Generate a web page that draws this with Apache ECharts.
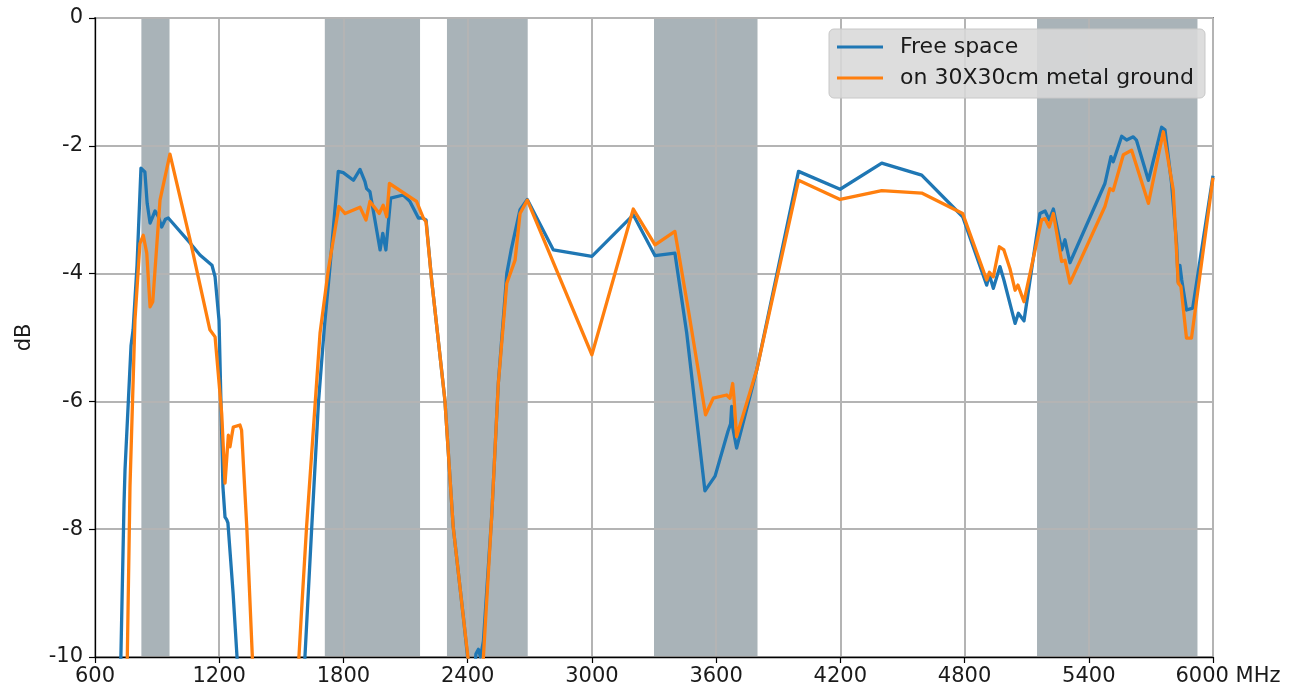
<!DOCTYPE html>
<html>
<head>
<meta charset="utf-8">
<title>Efficiency vs frequency</title>
<script src="https://cdn.jsdelivr.net/npm/echarts@6/dist/echarts.min.js"></script>
<style>
  html, body { margin: 0; padding: 0; background: #fff; }
  #chart { width: 1310px; height: 697px; }
</style>
</head>
<body>
<div id="chart"></div>
<script>
// Antenna efficiency (dB) vs frequency (MHz)
const freqFree = [700, 725, 740, 745, 774, 784, 803, 822, 827, 841, 852, 866, 880, 890, 905, 922, 940, 954,
  1059, 1107, 1165, 1180, 1199, 1218, 1228, 1236, 1242, 1267, 1286, 1300,
  1600, 1614, 1647, 1679, 1708, 1732, 1775, 1799, 1848, 1880, 1904, 1912, 1928, 1952, 1977, 1990, 2005,
  2028, 2089, 2121, 2162, 2180, 2199, 2226, 2290, 2330, 2379, 2403, 2425, 2440, 2452, 2462, 2476,
  2516, 2548, 2589, 2610, 2653, 2688, 2814, 3000, 3200, 3305, 3401, 3458, 3546, 3595, 3657, 3670,
  3675, 3680, 3699, 3796, 3998, 4199, 4400, 4593, 4791, 4907, 4920, 4939, 4971, 4990, 5044, 5060,
  5087, 5164, 5189, 5209, 5229, 5269, 5285, 5309, 5478, 5507, 5518, 5559, 5583, 5615, 5630, 5688,
  5752, 5768, 5800, 5824, 5832, 5840, 5849, 5872, 5902, 6000];
const dbFree = [-12, -10, -7.62, -7.07, -5.13, -4.88, -3.87, -2.35, -2.33, -2.41, -2.9, -3.21, -3.1, -3.02, -3.1, -3.27, -3.15, -3.13,
  -3.52, -3.71, -3.87, -4.05, -4.73, -7.34, -7.81, -7.85, -7.90, -9.0, -10, -11,
  -11, -10, -7.96, -6.03, -4.83, -4.0, -2.40, -2.42, -2.54, -2.37, -2.56, -2.67, -2.72, -3.16, -3.63, -3.37, -3.63,
  -2.82, -2.77, -2.87, -3.13, -3.13, -3.16, -4.10, -5.98, -7.96, -9.37, -10.1, -10.6, -9.95, -9.88, -10.0, -9.75,
  -7.80, -5.72, -4.0, -3.63, -3.0, -2.84, -3.63, -3.73, -3.08, -3.72, -3.68, -4.93, -7.40, -7.17, -6.47, -6.35,
  -6.08, -6.40, -6.73, -5.51, -2.40, -2.68, -2.27, -2.46, -3.11, -4.18, -4.02, -4.23, -3.89, -4.10, -4.78, -4.62,
  -4.74, -3.06, -3.02, -3.16, -2.99, -3.63, -3.47, -3.83, -2.59, -2.17, -2.25, -1.85, -1.91, -1.86, -1.91, -2.54,
  -1.71, -1.75, -2.59, -3.53, -4.13, -3.87, -4.10, -4.57, -4.54, -2.47];

const freqMetal = [700, 750, 756, 769, 793, 817, 833, 850, 866, 879, 914, 962, 1059, 1155, 1180, 1212, 1228,
  1244, 1252, 1260, 1268, 1300, 1308, 1333, 1360, 1375,
  1570, 1585, 1598, 1622, 1687, 1727, 1778, 1808, 1880, 1909, 1928, 1973, 1992, 2009, 2022, 2153, 2186,
  2199, 2226, 2290, 2330, 2379, 2403, 2425, 2462, 2476, 2516, 2548, 2589, 2629, 2653, 2688, 3000,
  3200, 3305, 3401, 3466, 3549, 3586, 3651, 3667, 3680, 3686, 3699, 3796, 3998, 4199, 4400, 4593,
  4791, 4907, 4920, 4939, 4968, 4990, 5019, 5044, 5058, 5087, 5172, 5189, 5209, 5229, 5269, 5285,
  5309, 5478, 5502, 5518, 5567, 5607, 5688, 5760, 5768, 5808, 5832, 5845, 5872, 5896, 6000];
const dbMetal = [-12, -10.6, -10, -7.33, -4.73, -3.53, -3.40, -3.68, -4.52, -4.44, -2.85, -2.13, -3.47, -4.88, -4.99, -6.19, -7.28,
  -6.53, -6.71, -6.55, -6.40, -6.37, -6.45, -7.96, -10, -11,
  -11, -10, -9.26, -7.96, -4.93, -3.94, -2.95, -3.06, -2.96, -3.16, -2.87, -3.06, -2.93, -3.11, -2.59, -2.87, -3.13,
  -3.19, -4.10, -5.98, -7.96, -9.37, -10.05, -11, -11, -10, -7.80, -5.72, -4.15, -3.79, -3.06, -2.85, -5.27,
  -2.99, -3.55, -3.34, -4.57, -6.21, -5.95, -5.90, -5.95, -5.72, -5.93, -6.55, -5.51, -2.54, -2.84, -2.70, -2.74,
  -3.06, -4.10, -3.98, -4.05, -3.58, -3.63, -3.92, -4.26, -4.18, -4.44, -3.16, -3.14, -3.27, -3.06, -3.81, -3.79,
  -4.15, -2.95, -2.67, -2.70, -2.14, -2.07, -2.90, -1.78, -1.80, -2.69, -4.15, -4.20, -5.01, -5.01, -2.50];

// Operating bands (MHz)
const bandStart = [824, 1710, 2300, 3300, 5150];
const bandEnd   = [960, 2170, 2690, 3800, 5925];

const seriesNames = ['Free space', 'on 30X30cm metal ground'];

const zip = (xs, ys) => xs.map((x, i) => [x, ys[i]]);
const FONT = 'DejaVu Sans';
const TEXT = '#1a1a1a';
const LINE_ICON = 'path://M0,0 L46,0 L46,3 L0,3 Z';

const chart = echarts.init(document.getElementById('chart'), null, { renderer: 'canvas' });

chart.setOption({
  animation: false,
  backgroundColor: '#ffffff',
  grid: {
    left: 95, right: 97, top: 18, bottom: 40,
    show: true, borderColor: '#000', borderWidth: 1.3, backgroundColor: 'transparent'
  },
  legend: {
    data: seriesNames.map(n => ({ name: n, icon: LINE_ICON })),
    orient: 'vertical',
    left: 829, top: 29,
    itemWidth: 46, itemHeight: 20, itemGap: 9,
    symbolKeepAspect: true,
    padding: [7, 11, 9, 8],
    backgroundColor: 'rgba(216,216,216,0.88)',
    borderColor: '#c8c8c8', borderWidth: 1, borderRadius: 5,
    textStyle: { fontFamily: FONT, fontSize: 22, color: TEXT, padding: [0, 0, 0, 12] }
  },
  xAxis: {
    type: 'value', min: 600, max: 6000, interval: 600, z: 3,
    axisLine: { onZero: false, lineStyle: { color: '#000', width: 1.3 } },
    axisTick: { show: true, length: 6, lineStyle: { color: '#000', width: 1.2 } },
    axisLabel: {
      fontFamily: FONT, fontSize: 21, color: TEXT, margin: 9,
      formatter: v => (v === 6000 ? '{last|6000 MHz}' : String(v)),
      rich: { last: { fontFamily: FONT, fontSize: 21, color: TEXT, padding: [0, 0, 0, 30] } }
    },
    splitLine: { show: true, lineStyle: { color: '#b4b4b4', width: 2 } }
  },
  yAxis: {
    type: 'value', min: -10, max: 0, interval: 2, z: 3,
    name: 'dB', nameLocation: 'middle', nameGap: 60,
    nameTextStyle: { fontFamily: FONT, fontSize: 21, color: TEXT },
    axisLine: { onZero: false, lineStyle: { color: '#000', width: 1.3 } },
    axisTick: { show: true, length: 6, lineStyle: { color: '#000', width: 1.2 } },
    axisLabel: { fontFamily: FONT, fontSize: 21, color: TEXT, margin: 12 },
    splitLine: { show: true, lineStyle: { color: '#b4b4b4', width: 2 } }
  },
  series: [
    {
      name: 'bands', type: 'line', data: [], z: 1, silent: true,
      markArea: {
        silent: true, z: 1,
        itemStyle: { color: '#a9b3b8' },
        data: bandStart.map((s, i) => [{ xAxis: s }, { xAxis: bandEnd[i] }])
      }
    },
    {
      name: seriesNames[0], type: 'line', z: 4, clip: true,
      symbol: 'none', showSymbol: false,
      lineStyle: { color: '#1f77b4', width: 3.3, join: 'round' },
      itemStyle: { color: '#1f77b4' },
      data: zip(freqFree, dbFree)
    },
    {
      name: seriesNames[1], type: 'line', z: 5, clip: true,
      symbol: 'none', showSymbol: false,
      lineStyle: { color: '#ff7f0e', width: 3.3, join: 'round' },
      itemStyle: { color: '#ff7f0e' },
      data: zip(freqMetal, dbMetal)
    }
  ]
});
</script>
</body>
</html>
